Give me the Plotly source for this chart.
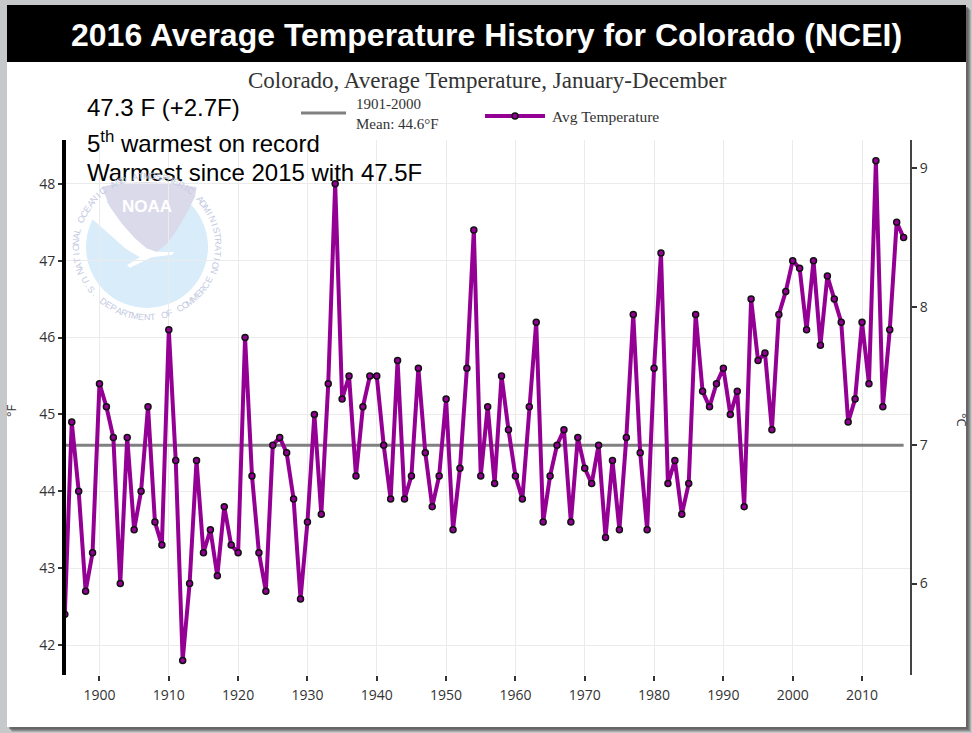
import math
import plotly.graph_objects as go

# ---------------- data ----------------
years = list(range(1895, 2017))
avg_temp_f = [
    42.4, 44.9, 44.0, 42.7, 43.2,                                # 1895-1899
    45.4, 45.1, 44.7, 42.8, 44.7, 43.5, 44.0, 45.1, 43.6, 43.3,  # 1900s
    46.1, 44.4, 41.8, 42.8, 44.4, 43.2, 43.5, 42.9, 43.8, 43.3,  # 1910s
    43.2, 46.0, 44.2, 43.2, 42.7, 44.6, 44.7, 44.5, 43.9, 42.6,  # 1920s
    43.6, 45.0, 43.7, 45.4, 48.0, 45.2, 45.5, 44.2, 45.1, 45.5,  # 1930s
    45.5, 44.6, 43.9, 45.7, 43.9, 44.2, 45.6, 44.5, 43.8, 44.2,  # 1940s
    45.2, 43.5, 44.3, 45.6, 47.4, 44.2, 45.1, 44.1, 45.5, 44.8,  # 1950s
    44.2, 43.9, 45.1, 46.2, 43.6, 44.2, 44.6, 44.8, 43.6, 44.7,  # 1960s
    44.3, 44.1, 44.6, 43.4, 44.4, 43.5, 44.7, 46.3, 44.5, 43.5,  # 1970s
    45.6, 47.1, 44.1, 44.4, 43.7, 44.1, 46.3, 45.3, 45.1, 45.4,  # 1980s
    45.6, 45.0, 45.3, 43.8, 46.5, 45.7, 45.8, 44.8, 46.3, 46.6,  # 1990s
    47.0, 46.9, 46.1, 47.0, 45.9, 46.8, 46.5, 46.2, 44.9, 45.2,  # 2000s
    46.2, 45.4, 48.3, 45.1, 46.1, 47.5, 47.3,                    # 2010-2016
]
assert len(avg_temp_f) == len(years)

mean_period_years = [1895, 2016]
mean_value_f = 44.6

x_tick_vals = list(range(1900, 2011, 10))
y_tick_vals_f = [42, 43, 44, 45, 46, 47, 48]
y_tick_vals_c = [6, 7, 8, 9]

title_text = "2016 Average Temperature History for Colorado (NCEI)"
subtitle_text = "Colorado, Average Temperature, January-December"
note_lines = ["47.3 F (+2.7F)", "5<sup>th</sup> warmest on record",
              "Warmest since 2015 with 47.5F"]
legend_mean_text = "1901-2000<br>Mean: 44.6°F"
legend_avg_text = "Avg Temperature"

# ---------------- layout geometry ----------------
W, H = 972, 733
L, R, T, B = 66, 62, 140, 58
PW, PH = W - L - R, H - T - B
XR = [1895.17, 2016.92]
YR_F = [41.61, 48.57]
YR_C = [(v - 32) / 1.8 for v in YR_F]

PURPLE = "#940094"
GREY_LINE = "#808080"
TXT = "#333333"


def fx(px):
    return (px - L) / PW


def fy(py):
    return (H - B - py) / PH


fig = go.Figure()

fig.add_trace(go.Scatter(
    x=mean_period_years, y=[mean_value_f] * len(mean_period_years),
    mode="lines", line=dict(color=GREY_LINE, width=3),
    name="1901-2000 Mean", hoverinfo="skip", showlegend=False))

fig.add_trace(go.Scatter(
    x=years, y=avg_temp_f, mode="lines+markers",
    line=dict(color=PURPLE, width=4),
    marker=dict(size=6, color=PURPLE, line=dict(color="#111111", width=1.5)),
    name="Avg Temperature", showlegend=False))

# invisible trace to activate the Celsius axis
fig.add_trace(go.Scatter(x=[years[0]], y=[YR_C[0]], yaxis="y2",
                         mode="markers", marker=dict(opacity=0),
                         hoverinfo="skip", showlegend=False))

shapes = []
# slide frame: shadow, white panel, black title bar
for off, op in [(5, 0.25), (4, 0.35), (3, 0.45), (2, 0.55)]:
    shapes.append(dict(type="rect", xref="paper", yref="paper", layer="below",
                       x0=fx(7 + off), x1=fx(966 + off), y0=fy(5 + off), y1=fy(727 + off),
                       fillcolor=f"rgba(90,90,90,{op})", line=dict(width=0)))
shapes.append(dict(type="rect", xref="paper", yref="paper", layer="below",
                   x0=fx(7), x1=fx(966), y0=fy(5), y1=fy(727),
                   fillcolor="white", line=dict(width=0)))
shapes.append(dict(type="rect", xref="paper", yref="paper", layer="below",
                   x0=fx(7), x1=fx(966), y0=fy(5), y1=fy(62),
                   fillcolor="black", line=dict(width=0)))

# faded NOAA emblem (decoration)
LCX, LCY, LR = 147, 247, 61
shapes.append(dict(type="circle", xref="paper", yref="paper", layer="below",
                   x0=fx(LCX - LR), x1=fx(LCX + LR), y0=fy(LCY - LR), y1=fy(LCY + LR),
                   fillcolor="#d9ecf9", line=dict(width=0)))


def zpath(pts):
    s = ""
    for i, (zx, zy) in enumerate(pts):
        px, py = 75 + zx / 3, 170 + zy / 3
        s += ("M" if i == 0 else "L") + f"{fx(px):.5f},{fy(py):.5f} "
    return s + "Z"


white_band = [(70, 60), (105, 110), (140, 160), (180, 205), (215, 235), (245, 245),
              (297, 246), (292, 254), (230, 262), (165, 293), (156, 286), (195, 262),
              (150, 235), (100, 190), (55, 150), (36, 125), (45, 90)]
lavender = [(80, 50), (130, 40), (215, 36), (300, 40), (365, 52), (360, 80), (335, 130),
            (303, 185), (272, 225), (245, 245), (215, 235), (180, 205), (140, 160),
            (105, 110)]
shapes.append(dict(type="path", xref="paper", yref="paper", layer="below",
                   path=zpath(white_band), fillcolor="white", line=dict(width=0)))
shapes.append(dict(type="path", xref="paper", yref="paper", layer="below",
                   path=zpath(lavender), fillcolor="#dbdaeb", line=dict(width=0)))

# legend swatches
shapes.append(dict(type="line", xref="paper", yref="paper",
                   x0=fx(301), x1=fx(346), y0=fy(113), y1=fy(113),
                   line=dict(color=GREY_LINE, width=3)))
shapes.append(dict(type="line", xref="paper", yref="paper",
                   x0=fx(485), x1=fx(545), y0=fy(116), y1=fy(116),
                   line=dict(color=PURPLE, width=4)))
shapes.append(dict(type="circle", xref="paper", yref="paper",
                   x0=fx(512), x1=fx(518), y0=fy(113), y1=fy(119),
                   fillcolor=PURPLE, line=dict(color="#111111", width=1.5)))

annotations = []
annotations.append(dict(xref="paper", yref="paper", x=fx(486), y=fy(35),
                        text=f"<b>{title_text}</b>", showarrow=False,
                        xanchor="center", yanchor="middle",
                        font=dict(family="Liberation Sans, Arial", size=32, color="white")))
annotations.append(dict(xref="paper", yref="paper", x=fx(487), y=fy(80),
                        text=subtitle_text, showarrow=False,
                        xanchor="center", yanchor="middle",
                        font=dict(family="Liberation Serif, Times New Roman", size=23, color=TXT)))
for txt, yy in zip(note_lines, [108, 142, 172]):
    annotations.append(dict(xref="paper", yref="paper", x=fx(85), y=fy(yy),
                            text=txt, showarrow=False, xanchor="left", yanchor="middle",
                            font=dict(family="Liberation Sans, Arial", size=24, color="black")))
annotations.append(dict(xref="paper", yref="paper", x=fx(354), y=fy(114),
                        text=legend_mean_text, showarrow=False, align="left",
                        xanchor="left", yanchor="middle",
                        font=dict(family="Liberation Serif, Times New Roman", size=15, color=TXT)))
annotations.append(dict(xref="paper", yref="paper", x=fx(550), y=fy(117),
                        text=legend_avg_text, showarrow=False,
                        xanchor="left", yanchor="middle",
                        font=dict(family="Liberation Serif, Times New Roman", size=15.5, color=TXT)))
annotations.append(dict(xref="paper", yref="paper", x=fx(11), y=fy(410),
                        text="°F", showarrow=False, textangle=-90,
                        xanchor="center", yanchor="middle",
                        font=dict(family="Open Sans", size=13, color=TXT)))
annotations.append(dict(xref="paper", yref="paper", x=fx(962), y=fy(420),
                        text="°C", showarrow=False, textangle=90,
                        xanchor="center", yanchor="middle",
                        font=dict(family="Open Sans", size=13, color=TXT)))

# emblem text
annotations.append(dict(xref="paper", yref="paper", x=fx(147), y=fy(206),
                        text="<b>NOAA</b>", showarrow=False,
                        xanchor="center", yanchor="middle",
                        font=dict(family="Liberation Sans", size=17, color="white")))
ring_col = "#c3cadf"
top_txt = "NATIONAL OCEANIC AND ATMOSPHERIC ADMINISTRATION"
n = len(top_txt)
for i, ch in enumerate(top_txt):
    if ch == " ":
        continue
    th = 200 - i * 220 / (n - 1)
    r = math.radians(th)
    px, py = LCX + 71 * math.cos(r), LCY - 71 * math.sin(r)
    annotations.append(dict(xref="paper", yref="paper", x=fx(px), y=fy(py), text=ch,
                            showarrow=False, textangle=90 - th, xanchor="center",
                            yanchor="middle",
                            font=dict(family="Liberation Sans", size=9, color=ring_col)))
bot_txt = "U.S. DEPARTMENT OF COMMERCE"
n = len(bot_txt)
for i, ch in enumerate(bot_txt):
    if ch == " ":
        continue
    th = 208 + i * 124 / (n - 1)
    r = math.radians(th)
    px, py = LCX + 70 * math.cos(r), LCY - 70 * math.sin(r)
    annotations.append(dict(xref="paper", yref="paper", x=fx(px), y=fy(py), text=ch,
                            showarrow=False, textangle=270 - th, xanchor="center",
                            yanchor="middle",
                            font=dict(family="Liberation Sans", size=9, color=ring_col)))

tick_font = dict(family="Open Sans", size=14, color=TXT)
fig.update_layout(
    width=W, height=H,
    margin=dict(l=L, r=R, t=T, b=B, pad=0),
    paper_bgcolor="#c6c8ca",
    plot_bgcolor="rgba(0,0,0,0)",
    showlegend=False,
    shapes=shapes,
    annotations=annotations,
    xaxis=dict(range=XR, tickvals=x_tick_vals, showgrid=True, gridcolor="#ebebeb",
               gridwidth=1.2, zeroline=False, showline=False, ticks="outside",
               ticklen=5, tickwidth=1.5, tickcolor="#333333", tickfont=tick_font,
               ticklabelstandoff=2),
    yaxis=dict(range=YR_F, tickvals=y_tick_vals_f, showgrid=True, gridcolor="#ebebeb",
               gridwidth=1.2, zeroline=False, showline=True, linecolor="black",
               linewidth=4, ticks="outside", ticklen=4, tickwidth=1.5,
               tickcolor="#333333", tickfont=tick_font),
    yaxis2=dict(range=YR_C, tickvals=y_tick_vals_c, overlaying="y", side="right",
                showgrid=False, zeroline=False, showline=True, linecolor="#444444",
                linewidth=2, ticks="outside", ticklen=5, tickwidth=1.5,
                tickcolor="#333333", tickfont=tick_font),
)

fig.write_html("out.html")
